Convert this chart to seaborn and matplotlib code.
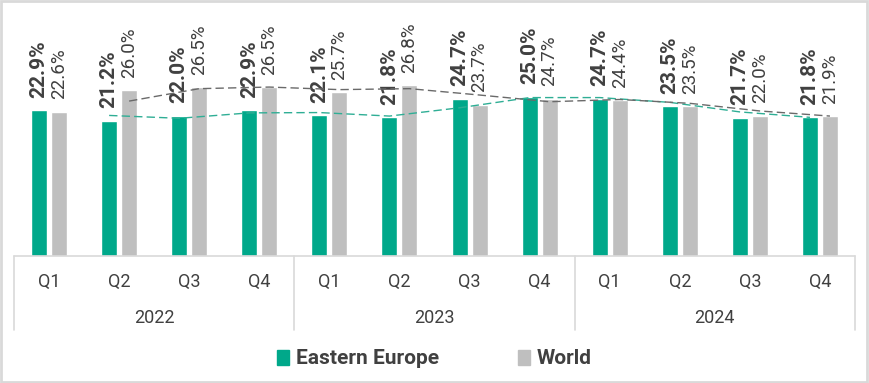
import matplotlib
matplotlib.use("agg")
import matplotlib.pyplot as plt
from matplotlib.patches import Rectangle
import seaborn as sns
import pandas as pd

# data
years = ["2022", "2023", "2024"]
quarters = ["Q1", "Q2", "Q3", "Q4"]
eastern_europe = [22.9, 21.2, 22.0, 22.9, 22.1, 21.8, 24.7, 25.0, 24.7, 23.5, 21.7, 21.8]
world = [22.6, 26.0, 26.5, 26.5, 25.7, 26.8, 23.7, 24.7, 24.4, 23.5, 22.0, 21.9]
series = ["Eastern Europe", "World"]

TEAL = "#00A88A"
GRAY = "#BFBFBF"
TXT = "#404040"

periods = [f"{y} {q}" for y in years for q in quarters]
df = pd.DataFrame({
    "period": periods * 2,
    "series": [series[0]] * len(periods) + [series[1]] * len(periods),
    "value": eastern_europe + world,
})

sns.set_style("white")
plt.rcParams["font.family"] = ["Roboto", "DejaVu Sans"]

fig = plt.figure(figsize=(8.69, 3.83), dpi=100)
ax = fig.add_axes([14 / 869, 1 - 256 / 383, 841 / 869, 255 / 383])

sns.barplot(data=df, x="period", y="value", hue="series", order=periods,
            hue_order=series, palette=[TEAL, GRAY], width=0.57, gap=0.2,
            ax=ax, legend=False, saturation=1)

ax.set_ylim(0, 40)
ax.set_xlim(-0.5, len(periods) - 0.5)
for s in ax.spines.values():
    s.set_visible(False)
ax.set_yticks([])
ax.set_xlabel("")
ax.set_ylabel("")

# data labels
for cont, vals, weight, size in zip(ax.containers, [eastern_europe, world], ["bold", "normal"], [15, 13.5]):
    ax.bar_label(cont, labels=[f"{v:.1f}%" for v in vals], rotation=90, padding=9,
                 fontsize=size, fontweight=weight, color=TXT)

# 2-period moving average trendlines at bar centers
for cont, vals, col in zip(ax.containers, [eastern_europe, world], ["#2FAE95", "#6A6A6A"]):
    xs = [p.get_x() + p.get_width() / 2 for p in cont.patches]
    ma = pd.Series(vals).rolling(2).mean()
    ax.plot(xs[1:], ma[1:], ls=(0, (6, 3)), lw=1.0, color=col, zorder=3)

# category axis box
ax.set_xticks(range(len(periods)))
ax.set_xticklabels(quarters * len(years), fontsize=13, color=TXT)
ax.tick_params(axis="x", length=0, pad=12)
trans = ax.get_xaxis_transform()
line_col = "#D9D9D9"
ax.plot([-0.5, len(periods) - 0.5], [0, 0], transform=trans, color=line_col, lw=1.2, clip_on=False)
for b in range(len(years) + 1):
    xb = b * len(quarters) - 0.5
    ax.plot([xb, xb], [0, -0.29], transform=trans, color=line_col, lw=1.2, clip_on=False)
for i, y in enumerate(years):
    ax.text(i * len(quarters) + 1.5, -0.245, y, transform=trans, ha="center", va="center",
            fontsize=13, color=TXT)

# legend
handles = [Rectangle((0, 0), 1, 1, color=c) for c in [TEAL, GRAY]]
fig.legend(handles, series, loc="center", bbox_to_anchor=(0.5, 1 - 359 / 383), ncol=2,
           frameon=False, handlelength=0.55, handleheight=0.75, handletextpad=0.35,
           columnspacing=3.8, prop={"weight": "bold", "size": 15}, labelcolor=TXT)

# outer border
fig.patches.append(Rectangle((0.001, 0.002), 0.997, 0.995, transform=fig.transFigure,
                             fill=False, edgecolor="#D9D9D9", lw=2))

fig.savefig("out.png", dpi=100)
